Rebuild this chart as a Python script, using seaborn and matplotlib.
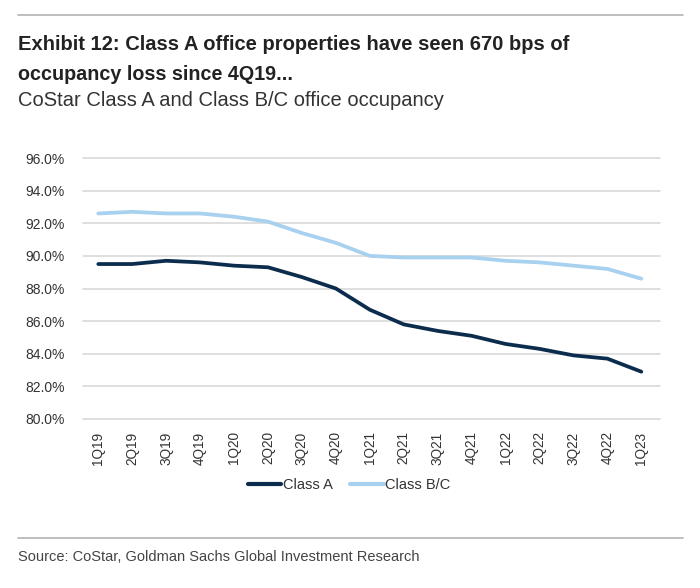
import matplotlib
matplotlib.use("Agg")
import matplotlib.pyplot as plt
import seaborn as sns
import pandas as pd
from matplotlib.ticker import FuncFormatter
from matplotlib.lines import Line2D

quarters = ["1Q19", "2Q19", "3Q19", "4Q19", "1Q20", "2Q20", "3Q20", "4Q20",
            "1Q21", "2Q21", "3Q21", "4Q21", "1Q22", "2Q22", "3Q22", "4Q22", "1Q23"]
class_a = [89.5, 89.5, 89.7, 89.6, 89.4, 89.3, 88.7, 88.0,
           86.7, 85.8, 85.4, 85.1, 84.6, 84.3, 83.9, 83.7, 82.9]
class_bc = [92.6, 92.7, 92.6, 92.6, 92.4, 92.1, 91.4, 90.8,
            90.0, 89.9, 89.9, 89.9, 89.7, 89.6, 89.4, 89.2, 88.6]
series_names = ["Class A", "Class B/C"]
y_ticks = [80, 82, 84, 86, 88, 90, 92, 94, 96]

sns.set_theme(style="white")
plt.rcParams["font.family"] = ["Liberation Sans", "DejaVu Sans"]

df = pd.DataFrame({
    "pos": list(range(len(quarters))) * 2,
    "value": class_a + class_bc,
    "series": [series_names[0]] * len(quarters) + [series_names[1]] * len(quarters),
})

colors = {"Class A": "#0c2c4e", "Class B/C": "#a8d0ef"}

W, H = 700, 588
fig = plt.figure(figsize=(7.0, 5.88), dpi=100)
ax = fig.add_axes([83 / W, 1 - 419 / H, (660 - 83) / W, (419 - 158) / H])

sns.lineplot(data=df, x="pos", y="value", hue="series", palette=colors,
             linewidth=2.7, ax=ax, legend=False)

ax.set_ylim(80, 96)
ax.set_xlim(-0.45, len(quarters) - 0.45)
ax.set_yticks(y_ticks)
ax.yaxis.set_major_formatter(FuncFormatter(lambda v, p: f"{v:.1f}%"))
ax.set_xticks(range(len(quarters)))
ax.set_xticklabels(quarters, rotation=90)
ax.tick_params(axis="x", labelsize=9.8, colors="#333333", length=0, pad=9)
ax.tick_params(axis="y", labelsize=10, colors="#333333", length=0, pad=13)
ax.grid(axis="y", color="#d9d9d9", linewidth=1.2)
for gl in ax.get_ygridlines():
    gl.set_clip_on(False)
for s in ax.spines.values():
    s.set_visible(False)
ax.set_xlabel("")
ax.set_ylabel("")

handles = [Line2D([0], [0], color=colors[n], lw=3) for n in series_names]
fig.legend(handles, series_names, loc="center", bbox_to_anchor=(349 / W, 1 - 485 / H),
           ncol=2, frameon=False, fontsize=10.5, handlelength=2.3, handletextpad=0.1,
           columnspacing=1.2, labelcolor="#333333")

# separators
fig.add_artist(Line2D([18 / W, 683 / W], [1 - 15 / H, 1 - 15 / H], color="#b3b3b3", lw=1.2))
fig.add_artist(Line2D([18 / W, 683 / W], [1 - 538 / H, 1 - 538 / H], color="#b3b3b3", lw=1.2))

texts = [
    ("Exhibit 12: Class A office properties have seen 670 bps of", 45, 569, "bold", "#222222"),
    ("occupancy loss since 4Q19...", 74, 293, "bold", "#222222"),
    ("CoStar Class A and Class B/C office occupancy", 100, 446, "normal", "#333333"),
    ("Source: CoStar, Goldman Sachs Global Investment Research", 557, 422, "normal", "#444444"),
]
objs = []
for s, y, xr, wt, c in texts:
    t = fig.text(18 / W, 1 - y / H, s, fontsize=14, fontweight=wt, color=c, va="center")
    objs.append((t, xr))

fig.canvas.draw()
r = fig.canvas.get_renderer()
for t, xr in objs:
    w = t.get_window_extent(r).width
    t.set_fontsize(t.get_fontsize() * (xr - 18) / w)

fig.savefig("out.png", dpi=100)
